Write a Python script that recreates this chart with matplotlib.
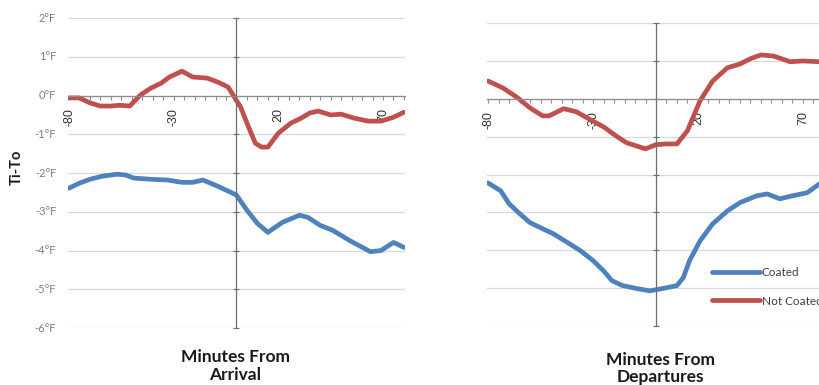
import matplotlib
matplotlib.use("Agg")
import matplotlib.pyplot as plt
import matplotlib.transforms as mtransforms
from matplotlib.ticker import MultipleLocator, FixedLocator

# ── Data (minutes, degrees F) ─────────────────────────────────────────────────
arr_red_min = [-80, -75, -70, -65, -60, -56, -51, -46, -41, -36, -32, -26, -21,
               -14, -9, -4, -1, 2, 5, 9, 12, 15, 20, 26, 31, 35, 39, 45, 50, 56,
               63, 69, 75, 80]
arr_red_val = [-0.06, -0.06, -0.19, -0.27, -0.27, -0.25, -0.27, 0.01, 0.19, 0.32,
               0.48, 0.63, 0.48, 0.45, 0.35, 0.22, -0.04, -0.30, -0.71, -1.23,
               -1.33, -1.33, -0.97, -0.71, -0.58, -0.45, -0.40, -0.50, -0.48,
               -0.58, -0.66, -0.66, -0.56, -0.43]

arr_blue_min = [-80, -75, -70, -64, -57, -53, -49, -41, -33, -26, -21, -16, -9,
                -3, 0, 5, 10, 15, 22, 30, 34, 40, 46, 54, 64, 69, 75, 80]
arr_blue_val = [-2.39, -2.26, -2.16, -2.08, -2.03, -2.05, -2.13, -2.16, -2.18,
                -2.24, -2.24, -2.18, -2.34, -2.49, -2.57, -2.96, -3.30, -3.53,
                -3.27, -3.09, -3.14, -3.35, -3.48, -3.74, -4.03, -4.00, -3.79,
                -3.92]

dep_red_min = [-80, -73, -66, -60, -54, -51, -44, -38, -32, -25, -19, -14, -5, 0,
               5, 10, 15, 21, 27, 34, 40, 45, 50, 56, 64, 70, 78]
dep_red_val = [0.47, 0.29, 0.03, -0.24, -0.45, -0.45, -0.26, -0.34, -0.53, -0.74,
               -0.98, -1.16, -1.32, -1.21, -1.19, -1.19, -0.84, -0.05, 0.47, 0.82,
               0.92, 1.06, 1.16, 1.13, 0.98, 1.00, 0.98]

dep_blue_min = [-80, -74, -70, -65, -60, -54, -49, -42, -36, -30, -25, -21, -16,
                -9, -3, 3, 10, 13, 16, 21, 27, 34, 40, 48, 53, 59, 65, 72, 78]
dep_blue_val = [-2.22, -2.43, -2.77, -3.03, -3.27, -3.43, -3.56, -3.80, -4.01,
                -4.27, -4.54, -4.80, -4.93, -5.01, -5.07, -5.01, -4.93, -4.72,
                -4.27, -3.75, -3.30, -2.96, -2.74, -2.56, -2.51, -2.64, -2.56,
                -2.48, -2.24]

y_ticks = [2, 1, 0, -1, -2, -3, -4, -5, -6]
y_tick_labels = ["2°F", "1°F", "0°F", "-1°F", "-2°F", "-3°F", "-4°F", "-5°F", "-6°F"]
x_label_ticks = [-80, -30, 20, 70]

BLUE = "#4F81BD"
RED = "#C0504D"
GRID = "#D9D9D9"
AXIS = "#8C8C8C"
TEXT = "#7F7F7F"

plt.rcParams["font.family"] = ["Lato", "DejaVu Sans"]

fig = plt.figure(figsize=(8.2, 3.85), dpi=100)
ax_arr = fig.add_axes([0.0829, 0.148, 0.411, 0.805])
ax_dep = fig.add_axes([0.594, 0.153, 0.412, 0.787])


def style_panel(ax):
    ax.set_xlim(-80.5, 80.5)
    ax.set_ylim(-6, 2)
    for side in ("top", "right"):
        ax.spines[side].set_visible(False)
    # horizontal axis crosses at 0°F, vertical axis at 0 min
    ax.spines["bottom"].set_position(("data", 0))
    ax.spines["bottom"].set_color(AXIS)
    ax.spines["bottom"].set_linewidth(0.9)
    ax.spines["left"].set_position(("data", 0))
    ax.spines["left"].set_color("#6E6E6E")
    ax.spines["left"].set_linewidth(0.9)

    ax.xaxis.set_major_locator(FixedLocator(x_label_ticks))
    ax.xaxis.set_minor_locator(MultipleLocator(5))
    ax.set_xticklabels([str(v) for v in x_label_ticks], rotation=90,
                       fontsize=9, color="#333333", family="Liberation Sans")
    ax.tick_params(axis="x", which="both", direction="out", length=3,
                   width=0.8, color=AXIS, pad=6)

    ax.set_yticks(y_ticks)
    ax.tick_params(axis="y", direction="inout", length=4, width=0.8,
                   color="#6E6E6E", labelleft=False)
    ax.yaxis.grid(True, color=GRID, linewidth=0.9)
    ax.set_axisbelow(True)


style_panel(ax_arr)
style_panel(ax_dep)

# ── Arrival panel ─────────────────────────────────────────────────────────────
ax_arr.plot(arr_blue_min, arr_blue_val, color=BLUE, linewidth=3.4,
            solid_capstyle="round", solid_joinstyle="round")
ax_arr.plot(arr_red_min, arr_red_val, color=RED, linewidth=3.4,
            solid_capstyle="round", solid_joinstyle="round")

trans = mtransforms.blended_transform_factory(ax_arr.transAxes, ax_arr.transData)
for v, lab in zip(y_ticks, y_tick_labels):
    ax_arr.text(-0.035, v, lab, transform=trans, ha="right", va="center",
                fontsize=8, color=TEXT)

fig.text(0.021, 0.566, "Ti-To", rotation=90, ha="center", va="center",
         fontsize=10.5, fontweight="bold", color="#1A1A1A")
fig.text(0.287, 0.049, "Minutes From\nArrival", ha="center", va="center",
         fontsize=12.5, fontweight="bold", color="#1A1A1A", linespacing=1.1)

# ── Departure panel ───────────────────────────────────────────────────────────
ax_dep.plot(dep_blue_min, dep_blue_val, color=BLUE, linewidth=3.4,
            solid_capstyle="round", solid_joinstyle="round", label="Coated")
ax_dep.plot(dep_red_min, dep_red_val, color=RED, linewidth=3.4,
            solid_capstyle="round", solid_joinstyle="round", label="Not Coated")

fig.text(0.805, 0.043, "Minutes From\nDepartures", ha="center", va="center",
         fontsize=12.5, fontweight="bold", color="#1A1A1A", linespacing=1.1)

leg = ax_dep.legend(loc="center left", bbox_to_anchor=(0.868, 0.2545),
                    bbox_transform=fig.transFigure, frameon=False, fontsize=8.5,
                    handlelength=4.1, handletextpad=0.15, labelspacing=1.45,
                    borderpad=0, borderaxespad=0)
for t in leg.get_texts():
    t.set_color("#404040")

fig.savefig("out.png", dpi=100)
